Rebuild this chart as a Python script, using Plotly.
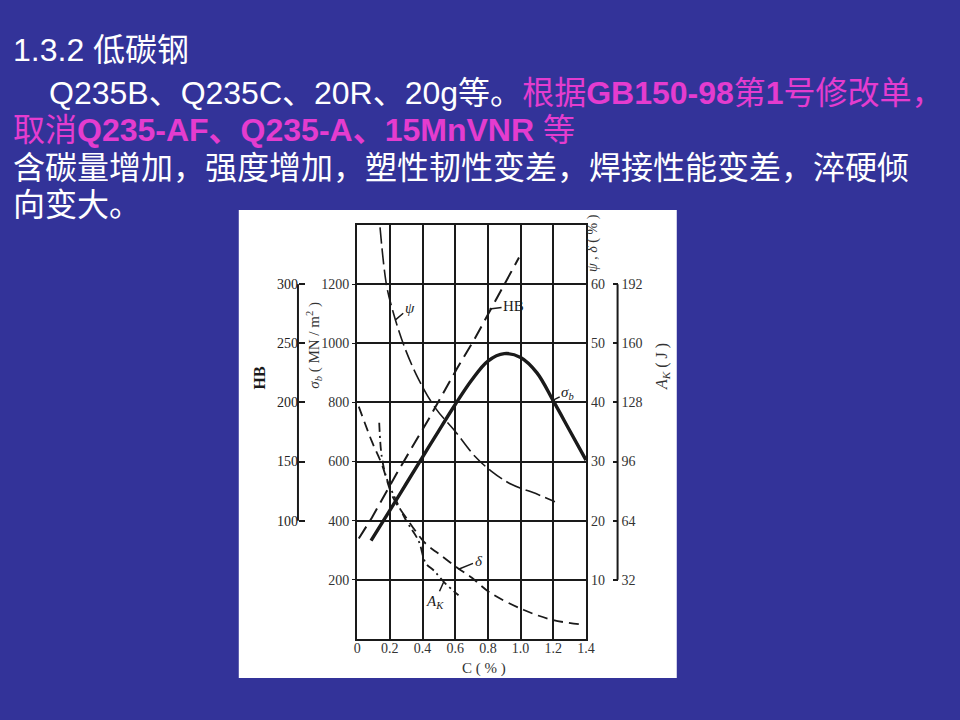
import plotly.graph_objects as go

# ---------------- data ----------------
carbon_ticks = [0, 0.2, 0.4, 0.6, 0.8, 1.0, 1.2, 1.4]
carbon_ticktext = ["0", "0.2", "0.4", "0.6", "0.8", "1.0", "1.2", "1.4"]

sigma_ticks = [200, 400, 600, 800, 1000, 1200]          # σb (MN/m²)
pct_ticks = [10, 20, 30, 40, 50, 60]                     # ψ, δ (%)
ak_ticks = [32, 64, 96, 128, 160, 192]                   # A_K (J)
hb_ticks = [100, 150, 200, 250, 300]                     # HB

# σb curve (solid)
sb_c = [0.085, 0.2, 0.3, 0.4, 0.5, 0.6, 0.7, 0.8, 0.9, 1.0, 1.1, 1.2, 1.3, 1.4]
sb_v = [333, 435, 525, 615, 705, 793, 875, 940, 965, 952, 900, 805, 705, 605]

# HB curve (dashed)
hb_c = [0.01, 0.09, 0.24, 0.44, 0.61, 0.72, 0.99]
hb_v = [85, 102.5, 139.5, 186.5, 228.5, 254, 322.5]

# ψ curve (%)
psi_c = [0.14, 0.18, 0.22, 0.285, 0.376, 0.48, 0.6, 0.72, 0.82, 0.94, 1.1, 1.21]
psi_v = [69.6, 59.8, 55.3, 49.7, 43.9, 39.0, 35.1, 30.9, 28.4, 26.2, 24.5, 23.2]

# δ curve (%)
delta_c = [0.01, 0.09, 0.15, 0.22, 0.30, 0.42, 0.50, 0.61, 0.70, 0.81, 1.02, 1.20, 1.39]
delta_v = [39.3, 33.4, 29.6, 23.9, 20.5, 16.1, 14.4, 12.1, 10.4, 7.9, 4.9, 3.2, 2.4]

# A_K curve (J)
ak_c = [0.135, 0.15, 0.18, 0.22, 0.30, 0.376, 0.42, 0.47, 0.54, 0.62]
ak_v = [117, 99, 87, 78.5, 64, 53, 41, 37, 30, 23.7]

# ---------------- figure ----------------
W, H = 960, 720
def px(x):
    return x / W
def py(y):
    return (H - y) / H

SERIF = "Liberation Serif, DejaVu Serif, serif"
TXT = "Liberation Sans, Noto Sans CJK SC, sans-serif"
INK = "#1a1a1a"
BLUE = "#333399"
MAG = "#E43CCF"

fig = go.Figure()

fig.add_trace(go.Scatter(x=sb_c, y=sb_v, mode="lines", line=dict(color=INK, width=3.4, shape="spline"),
                         xaxis="x", yaxis="y", name="σb"))
fig.add_trace(go.Scatter(x=hb_c, y=hb_v, mode="lines", line=dict(color=INK, width=2, dash="14px,7px"),
                         xaxis="x", yaxis="y4", name="HB"))
fig.add_trace(go.Scatter(x=psi_c, y=psi_v, mode="lines", line=dict(color=INK, width=1.6, dash="16px,5px", shape="spline"),
                         xaxis="x", yaxis="y2", name="ψ"))
fig.add_trace(go.Scatter(x=delta_c, y=delta_v, mode="lines", line=dict(color=INK, width=1.8, dash="10px,6px", shape="spline"),
                         xaxis="x", yaxis="y2", name="δ"))
fig.add_trace(go.Scatter(x=ak_c, y=ak_v, mode="lines", line=dict(color=INK, width=1.8, dash="9px,4px,2px,4px", shape="spline"),
                         xaxis="x", yaxis="y3", name="A_K"))

dom_y = [py(639), py(225)]

tickfont = dict(family=SERIF, size=14, color="#333333")

fig.update_layout(
    width=W, height=H, autosize=False,
    margin=dict(l=0, r=0, t=0, b=0),
    paper_bgcolor=BLUE,
    plot_bgcolor="white",
    showlegend=False,
    xaxis=dict(domain=[px(358), px(590)], range=[0, 1.4], tickvals=carbon_ticks, ticktext=carbon_ticktext,
               showgrid=True, gridcolor=INK, gridwidth=1.6, zeroline=False,
               showline=True, linecolor=INK, linewidth=2, mirror=True,
               ticks="", tickfont=tickfont, ticklabelstandoff=-5, anchor="y"),
    yaxis=dict(domain=dom_y, range=[0, 1400], tickvals=sigma_ticks,
               showgrid=True, gridcolor=INK, gridwidth=1.6, zeroline=False,
               showline=True, linecolor=INK, linewidth=2, mirror=True,
               ticks="outside", ticklen=3, tickcolor=INK, tickfont=tickfont, anchor="x"),
    yaxis2=dict(domain=dom_y, range=[0, 70], tickvals=pct_ticks, overlaying="y", side="right",
                showgrid=False, zeroline=False, showline=False, ticks="", tickfont=tickfont,
                ticklabelstandoff=4, anchor="x"),
    yaxis3=dict(domain=dom_y, range=[0, 224], tickvals=ak_ticks, overlaying="y", side="right",
                anchor="free", position=px(622), showgrid=False, zeroline=False, showline=False,
                ticks="inside", ticklen=5, tickcolor=INK, tickwidth=1.5, tickfont=tickfont,
                ticklabelstandoff=3),
    yaxis4=dict(domain=dom_y, range=[0, 350], tickvals=hb_ticks, overlaying="y", side="left",
                anchor="free", position=px(298), showgrid=False, zeroline=False, showline=False,
                ticks="inside", ticklen=6, tickcolor=INK, tickwidth=1.5,
                tickfont=dict(family=SERIF, size=14, color="#222222")),
)

# white picture panel behind the chart
fig.add_shape(type="rect", xref="paper", yref="paper", x0=px(238), x1=px(682), y0=py(678), y1=py(210),
              fillcolor="white", line=dict(width=0), layer="below")
# axis spines for HB and A_K (drawn only over their labelled span)
fig.add_shape(type="line", xref="paper", yref="y4", x0=px(298), x1=px(298), y0=hb_ticks[0], y1=hb_ticks[-1],
              line=dict(color=INK, width=2))
fig.add_shape(type="line", xref="paper", yref="y3", x0=px(622), x1=px(622), y0=ak_ticks[0], y1=ak_ticks[-1],
              line=dict(color=INK, width=2))

def title(x, y, text, size=13, angle=-90, color="#333333"):
    fig.add_annotation(xref="paper", yref="paper", x=px(x), y=py(y), text=text, textangle=angle,
                       xanchor="center", yanchor="middle", showarrow=False,
                       font=dict(family=SERIF, size=size, color=color))

# axis titles
title(259, 378, "<b>HB</b>", size=16, color=INK)
title(314, 345, "<i>σ<sub>b</sub></i> ( MN / m<sup>2</sup> )", size=15)
title(597, 243, "<i>ψ</i> , <i>δ</i> ( % )", size=14)
title(667, 366, "<i>A<sub>K</sub></i> ( J )", size=16)
title(487, 668, "C ( % )", size=15, angle=0)

# curve labels with leader lines
lab_font = dict(family=SERIF, size=15, color=INK)
fig.add_annotation(x=0.236, y=54, xref="x", yref="y2", text="<i>ψ</i>", showarrow=True, arrowhead=0,
                   arrowwidth=1.5, arrowcolor=INK, ax=14, ay=-12, font=lab_font)
fig.add_annotation(x=0.81, y=279, xref="x", yref="y4", text="HB", showarrow=True, arrowhead=0,
                   arrowwidth=1.5, arrowcolor=INK, ax=24, ay=-3, font=lab_font)
fig.add_annotation(x=1.19, y=805, xref="x", yref="y", text="<i>σ<sub>b</sub></i>", showarrow=True, arrowhead=0,
                   arrowwidth=1.5, arrowcolor=INK, ax=16, ay=-8, font=lab_font)
fig.add_annotation(x=0.62, y=11.8, xref="x", yref="y2", text="<i>δ</i>", showarrow=True, arrowhead=0,
                   arrowwidth=1.5, arrowcolor=INK, ax=20, ay=-8, font=lab_font)
fig.add_annotation(x=0.53, y=31, xref="x", yref="y3", text="<i>A<sub>K</sub></i>", showarrow=True, arrowhead=0,
                   arrowwidth=1.5, arrowcolor=INK, ax=-9, ay=20, font=lab_font)

# slide text
slide_font = dict(family=TXT, size=32, color="white")
lines = [
    (7, 50, "1.3.2 低碳钢"),
    (44, 93, "Q235B、Q235C、20R、20g等。<span style='color:%s'>根据<b>GB150-98</b>第<b>1</b>号修改单，</span>" % MAG),
    (7, 130, "<span style='color:%s'>取消<b>Q235-AF、Q235-A、15MnVNR</b> 等</span>" % MAG),
    (7, 168, "含碳量增加，强度增加，塑性韧性变差，焊接性能变差，淬硬倾"),
    (7, 205, "向变大。"),
]
for x, y, t in lines:
    fig.add_annotation(xref="paper", yref="paper", x=px(x), y=py(y), text=t, showarrow=False,
                       xanchor="left", yanchor="middle", font=slide_font)

fig.write_html("out.html", config={"displayModeBar": False, "responsive": False},
               post_script="document.body.style.margin='0';document.body.style.overflow='hidden';")
